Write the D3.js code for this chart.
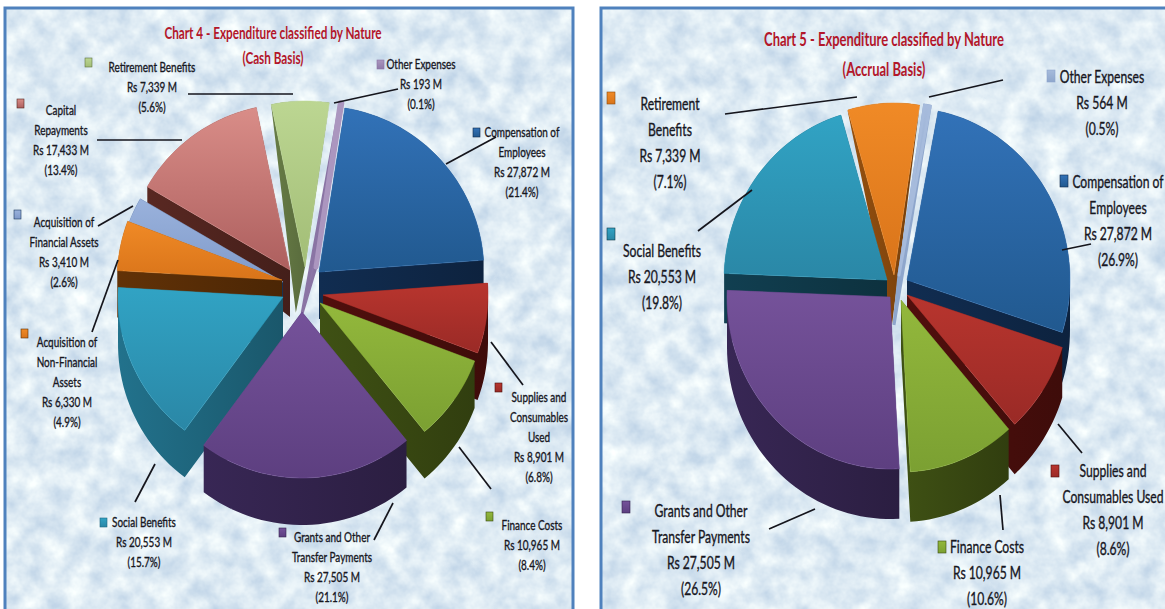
<!DOCTYPE html>
<html>
<head>
<meta charset="utf-8">
<title>Expenditure classified by Nature</title>
<script src="https://cdn.jsdelivr.net/npm/d3@7"></script>
<style>
  html, body { margin: 0; padding: 0; background: #fff; overflow: hidden; }
  text { font-family: Lato, "Liberation Sans", sans-serif; fill: #17171f; text-anchor: middle; }
  .title { fill: #b3162a; font-weight: bold; }
</style>
</head>
<body>
<div id="vizcont"></div>
<script>
// values, clockwise from Compensation of Employees
var names4 = ["Compensation", "Supplies", "Finance", "Grants", "Social", "AcqNonFin", "AcqFin", "Capital", "Retirement", "Other"];
var values4 = [27872, 8901, 10965, 27505, 20553, 6330, 3410, 17433, 7339, 193];
var pct4 = [21.4, 6.8, 8.4, 21.1, 15.7, 4.9, 2.6, 13.4, 5.6, 0.1];
var lines4 = [["Compensation of", "Employees"], ["Supplies and", "Consumables", "Used"], ["Finance Costs"],
              ["Grants and Other", "Transfer Payments"], ["Social Benefits"], ["Acquisition of", "Non-Financial", "Assets"],
              ["Acquisition of", "Financial Assets"], ["Capital", "Repayments"], ["Retirement Benefits"], ["Other Expenses"]];

var names5 = ["Compensation", "Supplies", "Finance", "Grants", "Social", "Retirement", "Other"];
var values5 = [27872, 8901, 10965, 27505, 20553, 7339, 564];
var pct5 = [26.9, 8.6, 10.6, 26.5, 19.8, 7.1, 0.5];
var lines5 = [["Compensation of", "Employees"], ["Supplies and", "Consumables Used"], ["Finance Costs"],
              ["Grants and Other", "Transfer Payments"], ["Social Benefits"], ["Retirement", "Benefits"], ["Other Expenses"]];

// colours by category: top of face, bottom of face, side wall
var colours = {
  Compensation: ["#3272b8", "#21598f", "#10294a"],
  Supplies:     ["#b8352e", "#9a2a26", "#4a0e0c"],
  Finance:      ["#93b83c", "#7ba032", "#3a4a12"],
  Grants:       ["#75529a", "#5d3f80", "#33244e"],
  Social:       ["#31a3c4", "#2a87a6", "#1f6880"],
  AcqNonFin:    ["#f08a26", "#d9741a", "#5a2e06"],
  AcqFin:       ["#9ab2dc", "#7f9aca", "#1d3a60"],
  Capital:      ["#d98d88", "#ad5f5e", "#51251f"],
  Retirement:   ["#bcd692", "#a2bd76", "#5f7240"],
  Other:        ["#ab96bf", "#8f7aa8", "#8a74a4"]
};
var overrides5 = {
  Retirement: ["#f08a26", "#d9741a", "#8a4a0e"],
  Other:      ["#a6bbdc", "#8ea6cc", "#8ea6cc"],
  Social:     ["#31a3c4", "#2a87a6", "#103a4a"]
};

// pie layout: apex of each exploded slice, plus how far the side wall leans
var apex4 = [[319,272],[323,295],[320,303],[302,312],[283,297],[282,280],[283,282],[290,270],[305,267],[316,267]];
var lean4 = [0,0,0,0,0,0,0,0,-0.2,-0.3];
var apex5 = [[907,280],[907,295],[901,300],[890,297],[887,280],[894,275],[899,275]];
var lean5 = [0,0,0,0,0,-0.04,-0.1];

// label layout: [centre x, first baseline, marker x, marker y]
var label4 = [[522,137,473,128],[539,402,495,383],[532,530,486,512],[332,542,279,528],[144,527,100,518],
              [67,347,21,329],[64,227,14,210],[61,115,17,99],[152,72,85,58],[421,69,377,60]];
var leader4 = [[446,164,496,137],[491,342,523,385],[459,447,491,489],[393,503,374,540],[155,464,135,502],
               [118,260,92,332],[133,206,98,226],[182,140,97,140],[293,94,188,94],[334,103,398,89]];
var label5 = [[1118,188,1060,175],[1113,477,1051,465],[987,553,938,541],[701,517,622,501],[662,257,607,228],
              [670,110,607,92],[1102,83,1047,70]];
var leader5 = [[1062,250,1091,244],[1058,424,1082,453],[1000,495,1003,530],[815,509,769,529],[752,190,698,231],
               [857,97,725,114],[929,97,1003,80]];

var width = 1165, height = 609;
var svg = d3.select("#vizcont").append("svg").attr("width", width).attr("height", height);
var defs = svg.append("defs");

// the mottled blue paper behind both charts
var paper = defs.append("filter").attr("id", "paper")
    .attr("x", 0).attr("y", 0).attr("width", 1).attr("height", 1)
    .attr("color-interpolation-filters", "sRGB");
paper.append("feTurbulence").attr("type", "fractalNoise").attr("baseFrequency", 0.045)
    .attr("numOctaves", 4).attr("seed", 7);
paper.append("feColorMatrix").attr("type", "matrix")
    .attr("values", "0.32 0 0 0 0.71  0.24 0 0 0 0.80  0.13 0 0 0 0.89  0 0 0 0 1");

function gradient(id, c0, c1, horizontal) {
  var g = defs.append("linearGradient").attr("id", id)
      .attr("x1", 0).attr("y1", 0).attr("x2", horizontal ? 1 : 0).attr("y2", horizontal ? 0 : 1);
  g.append("stop").attr("offset", "0%").attr("stop-color", c0);
  g.append("stop").attr("offset", "100%").attr("stop-color", c1);
}

// the font is wider than the one in the picture, so squeeze each text to fit
function squeeze(sel, factor) {
  sel.each(function() {
    var len = this.getComputedTextLength();
    d3.select(this).attr("textLength", len * factor).attr("lengthAdjust", "spacingAndGlyphs");
  });
}

function draw_pie(opt) {
  var g = svg.append("g");

  // panel
  g.append("rect").attr("x", opt.panel[0]).attr("y", 8).attr("width", opt.panel[1]).attr("height", 640)
      .attr("fill", "#dbe9f6").attr("filter", "url(#paper)");
  g.append("rect").attr("x", opt.panel[0]).attr("y", 8).attr("width", opt.panel[1]).attr("height", 640)
      .attr("fill", "none").attr("stroke", "#4f81bd").attr("stroke-width", 3);

  // angles come straight from the values, start angle turns the pie
  var pie = d3.pie().sort(null).startAngle(opt.start).endAngle(opt.start + 2 * Math.PI);
  var arcs = pie(opt.values);

  // wall height shrinks toward the back of the pie
  var depth = d3.scalePow().exponent(2).domain([100, 270]).range([0, opt.depth]).clamp(true);

  var slices = arcs.map(function(a, i) {
    var ap = opt.apex[i];
    var steps = Math.max(2, Math.ceil((a.endAngle - a.startAngle) / 0.04));
    var angle = d3.scaleLinear().domain([0, steps]).range([a.startAngle, a.endAngle]);
    var rim = d3.range(steps + 1).map(function(k) {
      var t = angle(k);
      return [ap[0] + opt.rx * Math.sin(t), ap[1] - opt.ry * Math.cos(t)];
    });
    var outline = [ap].concat(rim);
    var cols = (opt.overrides && opt.overrides[opt.names[i]]) || colours[opt.names[i]];
    return { i: i, outline: outline, cols: cols, name: opt.names[i], cy: d3.mean(outline, function(p) { return p[1]; }) };
  });

  var toLine = d3.line();
  function drop(p, lean) {
    var d = depth(p[1]);
    return [p[0] + lean * d, p[1] + d];
  }

  // back slices first so the front ones cover their walls
  slices.slice().sort(function(a, b) { return a.cy - b.cy; }).forEach(function(s) {
    var id = opt.key + s.name;
    gradient(id + "Top", s.cols[0], s.cols[1], false);
    gradient(id + "Wall", d3.rgb(s.cols[2]).brighter(0.25), d3.rgb(s.cols[2]).darker(0.5), true);

    var lean = opt.lean[s.i];
    var ring = s.outline.concat([s.outline[0]]);
    var wall = "";
    for (var k = 0; k < ring.length - 1; k++) {
      var quad = [ring[k], ring[k + 1], drop(ring[k + 1], lean), drop(ring[k], lean)];
      // same winding for every quad or nonzero fill punches holes
      if (d3.polygonArea(quad) < 0) quad.reverse();
      wall += toLine(quad) + "Z";
    }
    var thin = opt.names[s.i] === "Other";
    g.append("path").attr("d", wall)
        .attr("fill", "url(#" + id + "Wall)")
        .attr("stroke", thin ? s.cols[2] : "none").attr("stroke-width", 3);
    g.append("path").attr("d", toLine(s.outline) + "Z")
        .attr("fill", "url(#" + id + "Top)").attr("stroke", s.cols[0])
        .attr("stroke-width", thin ? opt.thin : 0.5).attr("stroke-linejoin", "round");
  });

  // leader lines
  g.selectAll("line.leader").data(opt.leader).enter().append("line")
      .attr("class", "leader")
      .attr("x1", function(d) { return d[0]; }).attr("y1", function(d) { return d[1]; })
      .attr("x2", function(d) { return d[2]; }).attr("y2", function(d) { return d[3]; })
      .attr("stroke", "#15151c").attr("stroke-width", 1.7);

  // labels with their little legend keys
  opt.names.forEach(function(name, i) {
    var pos = opt.label[i];
    var rows = opt.lines[i].concat(["Rs " + d3.format(",")(opt.values[i]) + " M", "(" + opt.pct[i] + "%)"]);
    g.selectAll("text.l" + i).data(rows).enter().append("text")
        .attr("class", "l" + i)
        .attr("x", pos[0])
        .attr("y", function(d, k) { return pos[1] + k * opt.lineGap; })
        .attr("font-size", opt.fontSize)
        .attr("stroke", "#17171f").attr("stroke-width", 0.35)
        .text(function(d) { return d; })
        .call(squeeze, opt.squeeze);
    g.append("rect").attr("x", pos[2]).attr("y", pos[3])
        .attr("width", opt.key5 ? 8 : 7).attr("height", opt.key5 ? 12 : 9)
        .attr("fill", "url(#" + opt.key + name + "Top)").attr("stroke", slices[i].cols[2]).attr("stroke-width", 0.6);
  });

  // title
  g.selectAll("text.title").data(opt.title).enter().append("text")
      .attr("class", "title")
      .attr("x", opt.titleX)
      .attr("y", function(d, k) { return opt.titleY[k]; })
      .attr("font-size", opt.titleSize)
      .text(function(d) { return d; })
      .call(squeeze, opt.titleSqueeze);
}

var deg = Math.PI / 180;

draw_pie({
  key: "c4", panel: [5, 568], names: names4, values: values4, pct: pct4, lines: lines4,
  start: 9 * deg, apex: apex4, lean: lean4, rx: 165, ry: 166, depth: 47, thin: 5,
  label: label4, leader: leader4, fontSize: 14, lineGap: 20, squeeze: 0.71,
  title: ["Chart 4 - Expenditure classified by Nature", "(Cash Basis)"], titleX: 273, titleY: [39, 64], titleSize: 17, titleSqueeze: 0.69
});

draw_pie({
  key: "c5", key5: true, panel: [601, 566], names: names5, values: values5, pct: pct5, lines: lines5,
  start: 11 * deg, apex: apex5, lean: lean5, rx: 163, ry: 172, depth: 50, thin: 3, overrides: overrides5,
  label: label5, leader: leader5, fontSize: 16.5, lineGap: 26, squeeze: 0.735,
  title: ["Chart 5 - Expenditure classified by Nature", "(Accrual Basis)"], titleX: 884, titleY: [46, 76], titleSize: 18.5, titleSqueeze: 0.7
});
</script>
</body>
</html>
